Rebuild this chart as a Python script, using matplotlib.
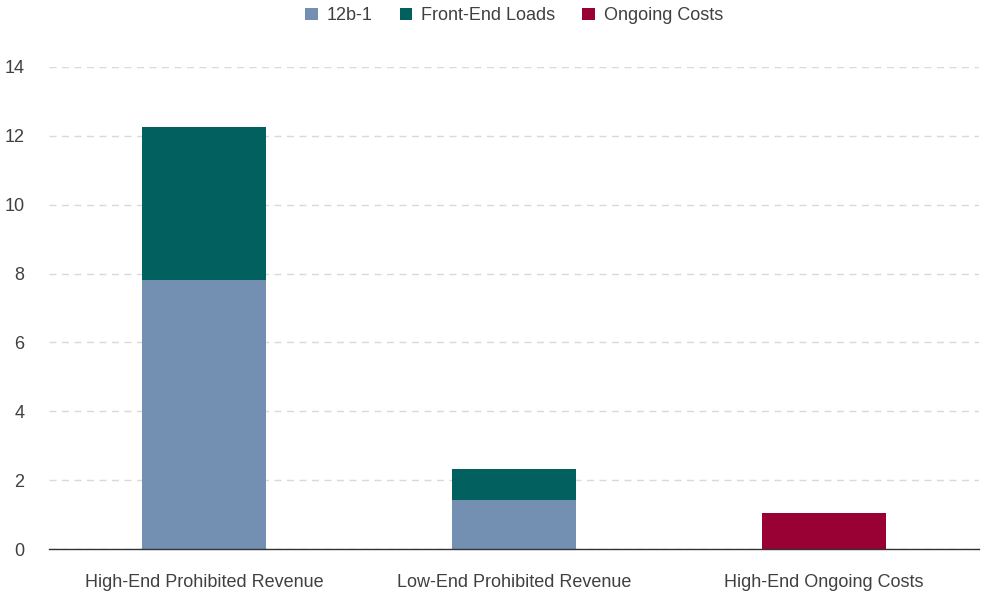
import matplotlib
matplotlib.use("Agg")
import matplotlib.pyplot as plt
import numpy as np

# Données
categories = ["High-End Prohibited Revenue", "Low-End Prohibited Revenue", "High-End Ongoing Costs"]
fee_12b1 = [7.81, 1.41, 0.0]
front_end_loads = [4.45, 0.90, 0.0]
ongoing_costs = [0.0, 0.0, 1.04]
yticks = [0, 2, 4, 6, 8, 10, 12, 14]

plt.rcParams['font.family'] = ['Liberation Sans Narrow', 'Liberation Sans', 'DejaVu Sans']

fig = plt.figure(figsize=(9.85, 5.92), dpi=100)
ax = fig.add_axes([0.05, 0.0726, 0.944, 0.8143])

x = np.arange(len(categories))
w = 0.4
ax.bar(x, fee_12b1, w, color="#7390B2", label="12b-1", zorder=3)
ax.bar(x, front_end_loads, w, bottom=fee_12b1, color="#02605F", label="Front-End Loads", zorder=3)
ax.bar(x, ongoing_costs, w, color="#990033", label="Ongoing Costs", zorder=3)

ax.set_xlim(-0.5, 2.5)
ax.set_ylim(0, 14)
ax.set_yticks(yticks)
ax.set_xticks(x)
ax.set_xticklabels(categories)
ax.tick_params(axis="both", length=0, labelsize=13, colors="#404040")
ax.tick_params(axis="y", pad=18)
ax.tick_params(axis="x", pad=18)
ax.grid(axis="y", color="#D9D9D9", linestyle=(0, (5, 4)), linewidth=1, zorder=0)

for s in ["top", "right", "left"]:
    ax.spines[s].set_visible(False)
ax.spines["bottom"].set_color("#333333")
ax.spines["bottom"].set_linewidth(1)
ax.spines["bottom"].set_zorder(4)

ax.legend(loc="center", bbox_to_anchor=(0.5, 1.106), ncol=3, frameon=False,
          fontsize=13, handlelength=0.7, handleheight=0.7, handletextpad=0.5,
          columnspacing=1.5, labelcolor="#404040")

fig.savefig("out.png", dpi=100)
